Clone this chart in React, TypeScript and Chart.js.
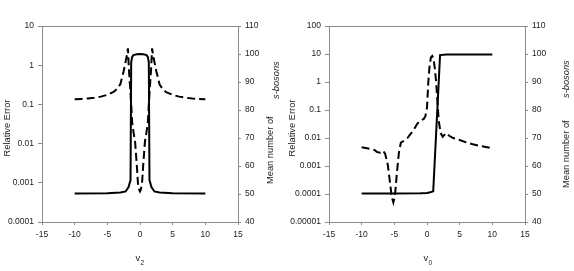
import React, { useEffect, useRef } from "react";
import { Chart, registerables } from "chart.js";

Chart.register(...registerables);

// ---------- data ----------
const xTicks = [-15, -10, -5, 0, 5, 10, 15];
const meanTicks = [40, 50, 60, 70, 80, 90, 100, 110];

const v2ErrTicks = [0.0001, 0.001, 0.01, 0.1, 1, 10];
const v2ErrTickLabels = ["0.0001", "0.001", "0.01", "0.1", "1", "10"];
const v0ErrTicks = [0.00001, 0.0001, 0.001, 0.01, 0.1, 1, 10, 100];
const v0ErrTickLabels = ["0.00001", "0.0001", "0.001", "0.01", "0.1", "1", "10", "100"];

// left panel (v2): relative error (dashed, log axis)
const v2ErrX = [-10, -9, -8, -7, -6, -5, -4, -3.5, -3, -2.5, -2, -1.85, -1.7, -1.5, -1.35, -1.2, -1, -0.75, -0.5, -0.3, -0.1, 0,
  0.1, 0.3, 0.5, 0.75, 1, 1.2, 1.35, 1.5, 1.7, 1.85, 2, 2.5, 3, 3.5, 4, 5, 6, 7, 8, 9, 10];
const v2Err = [0.135, 0.138, 0.142, 0.148, 0.158, 0.175, 0.21, 0.25, 0.33, 0.7, 1.8, 2.7, 0.8, 0.25, 0.1, 0.035, 0.02, 0.011, 0.003, 0.0009, 0.00065, 0.0006,
  0.00065, 0.0009, 0.003, 0.011, 0.02, 0.035, 0.1, 0.25, 0.8, 2.7, 1.8, 0.7, 0.32, 0.245, 0.205, 0.175, 0.158, 0.148, 0.142, 0.138, 0.135];
// left panel (v2): mean number of s-bosons (solid, right axis)
const v2MeanX = [-10, -5, -3, -2.2, -1.75, -1.45, -1.35, -1.2, -1, -0.5, 0, 0.5, 1, 1.2, 1.35, 1.45, 1.75, 2.2, 3, 5, 10];
const v2Mean = [50.2, 50.3, 50.5, 50.9, 52.5, 55, 97, 99, 99.6, 99.9, 100, 99.9, 99.6, 99, 97, 55, 52.5, 50.9, 50.5, 50.3, 50.2];

// right panel (v0): relative error (dashed, log axis)
const v0ErrX = [-10, -9, -8, -7.7, -7.2, -6.7, -6.4, -6, -5.7, -5.4, -5.15, -4.9, -4.6, -4.3, -4, -3.6, -3, -2.5, -2, -1.5, -1, -0.5, -0.25, 0,
  0.2, 0.4, 0.6, 0.8, 1, 1.2, 1.4, 1.6, 1.8, 2.1, 2.4, 2.9, 3.4, 4, 5, 6, 7, 8, 9, 10];
const v0Err = [0.0047, 0.0042, 0.0037, 0.0032, 0.003, 0.0035, 0.0027, 0.0011, 0.0003, 0.00008, 0.00005, 0.00009, 0.0006, 0.003, 0.0068, 0.0078, 0.01, 0.014, 0.02, 0.032, 0.042, 0.048, 0.06, 0.12,
  1.0, 4, 7.5, 8.5, 7, 3, 1, 0.2, 0.04, 0.015, 0.011, 0.015, 0.012, 0.01, 0.0085, 0.007, 0.006, 0.0053, 0.0048, 0.0043];
// right panel (v0): mean number of s-bosons (solid, right axis)
const v0MeanX = [-10, -5, -1, 0, 0.5, 0.95, 2, 3, 10];
const v0Mean = [50.2, 50.2, 50.3, 50.4, 50.6, 51, 99.6, 99.8, 99.8];

// ---------- style ----------
const FONT = "'Liberation Sans', Arial, 'DejaVu Sans', sans-serif";
const AXIS = "#8c8c8c";
const TEXT = "#222";
const W = 287;
const H = 271;

type Panel = {
  errX: number[]; err: number[]; meanX: number[]; mean: number[];
  errTicks: number[]; errLabels: string[]; sub: string;
  leftTitleX: number; meanTitleX: number; meanTitleBottom: number;
  bosTitleX: number; bosTitleBottom: number; xTitleX: number;
};

const leftPanel: Panel = {
  errX: v2ErrX, err: v2Err, meanX: v2MeanX, mean: v2Mean,
  errTicks: v2ErrTicks, errLabels: v2ErrTickLabels, sub: "2",
  leftTitleX: 7, meanTitleX: 270, meanTitleBottom: 184, bosTitleX: 276, bosTitleBottom: 99, xTitleX: 138,
};
const rightPanel: Panel = {
  errX: v0ErrX, err: v0Err, meanX: v0MeanX, mean: v0Mean,
  errTicks: v0ErrTicks, errLabels: v0ErrTickLabels, sub: "0",
  leftTitleX: 5.5, meanTitleX: 279, meanTitleBottom: 188, bosTitleX: 279.5, bosTitleBottom: 98, xTitleX: 139,
};

function makeChart(canvas: HTMLCanvasElement, p: Panel) {
  const deco = {
    id: "deco",
    afterDraw(chart: any) {
      const ctx = chart.ctx as CanvasRenderingContext2D;
      const a = chart.chartArea;
      ctx.save();
      // top border of plot area
      ctx.strokeStyle = AXIS;
      ctx.lineWidth = 1;
      ctx.beginPath();
      const ty = Math.round(a.top) + 0.5;
      ctx.moveTo(a.left, ty);
      ctx.lineTo(a.right, ty);
      ctx.stroke();
      ctx.fillStyle = TEXT;
      ctx.textBaseline = "middle";
      // left title
      ctx.save();
      ctx.font = `9.3px ${FONT}`;
      ctx.translate(p.leftTitleX, 128);
      ctx.rotate(-Math.PI / 2);
      ctx.textAlign = "center";
      ctx.fillText("Relative Error", 0, 0);
      ctx.restore();
      // right title
      ctx.save();
      ctx.font = `9.3px ${FONT}`;
      ctx.translate(p.meanTitleX, p.meanTitleBottom);
      ctx.rotate(-Math.PI / 2);
      ctx.textAlign = "left";
      ctx.fillText("Mean number of", 0, 0);
      ctx.restore();
      ctx.save();
      ctx.font = `italic 9.3px ${FONT}`;
      ctx.translate(p.bosTitleX, p.bosTitleBottom);
      ctx.rotate(-Math.PI / 2);
      ctx.textAlign = "left";
      ctx.fillText("s-bosons", 0, 0);
      ctx.restore();
      // x title
      ctx.textBaseline = "alphabetic";
      ctx.textAlign = "left";
      ctx.font = `9.3px ${FONT}`;
      ctx.fillText("v", p.xTitleX - 2.5, 261);
      ctx.font = `6.5px ${FONT}`;
      ctx.fillText(p.sub, p.xTitleX + 2.5, 265);
      ctx.restore();
    },
  };

  const tickFont = { family: FONT, size: 8.5 };

  return new Chart(canvas, {
    type: "line",
    data: {
      datasets: [
        {
          data: p.errX.map((x, i) => ({ x, y: p.err[i] })),
          yAxisID: "yErr",
          borderColor: "#000",
          borderWidth: 2,
          borderDash: [8, 4],
          pointRadius: 0,
          fill: false,
          tension: 0,
        },
        {
          data: p.meanX.map((x, i) => ({ x, y: p.mean[i] })),
          yAxisID: "yMean",
          borderColor: "#000",
          borderWidth: 2,
          pointRadius: 0,
          fill: false,
          tension: 0,
        },
      ],
    },
    options: {
      animation: false,
      responsive: false,
      devicePixelRatio: 1,
      layout: { padding: { top: 26, left: 0, right: 0, bottom: 0 } },
      plugins: { legend: { display: false }, tooltip: { enabled: false }, title: { display: false } },
      scales: {
        x: {
          type: "linear",
          position: "bottom",
          min: -15,
          max: 15,
          afterBuildTicks: (s: any) => { s.ticks = xTicks.map((v) => ({ value: v })); },
          afterFit: (s: any) => { s.height = H - 222; },
          grid: { display: true, drawOnChartArea: false, drawTicks: true, tickLength: 3, color: AXIS },
          border: { display: true, color: AXIS, width: 1 },
          ticks: { color: TEXT, font: tickFont, padding: 5, maxRotation: 0, autoSkip: false, callback: (v: any) => String(v) },
        },
        yErr: {
          type: "logarithmic",
          position: "left",
          min: p.errTicks[0],
          max: p.errTicks[p.errTicks.length - 1],
          afterBuildTicks: (s: any) => { s.ticks = p.errTicks.map((v) => ({ value: v })); },
          afterFit: (s: any) => { s.width = 42; },
          grid: { display: true, drawOnChartArea: false, drawTicks: true, tickLength: 4, color: AXIS },
          border: { display: true, color: AXIS, width: 1 },
          ticks: { color: TEXT, font: tickFont, padding: 4, autoSkip: false, callback: (_v: any, i: number) => p.errLabels[i] },
        },
        yMean: {
          type: "linear",
          position: "right",
          min: 40,
          max: 110,
          afterBuildTicks: (s: any) => { s.ticks = meanTicks.map((v) => ({ value: v })); },
          afterFit: (s: any) => { s.width = W - 238; },
          grid: { display: true, drawOnChartArea: false, drawTicks: true, tickLength: 3, color: AXIS },
          border: { display: true, color: AXIS, width: 1 },
          ticks: { color: TEXT, font: tickFont, padding: 4, autoSkip: false, callback: (v: any) => String(v) },
        },
      },
    } as any,
    plugins: [deco],
  });
}

export default function App() {
  const leftRef = useRef<HTMLCanvasElement>(null);
  const rightRef = useRef<HTMLCanvasElement>(null);
  useEffect(() => {
    const c1 = makeChart(leftRef.current!, leftPanel);
    const c2 = makeChart(rightRef.current!, rightPanel);
    return () => {
      c1.destroy();
      c2.destroy();
    };
  }, []);
  return (
    <div style={{ position: "fixed", left: 0, top: 0, width: 574, height: 271, background: "#fff" }}>
      <canvas ref={leftRef} width={W} height={H} style={{ position: "absolute", left: 0, top: 0, width: W, height: H }} />
      <canvas ref={rightRef} width={W} height={H} style={{ position: "absolute", left: W, top: 0, width: W, height: H }} />
    </div>
  );
}
